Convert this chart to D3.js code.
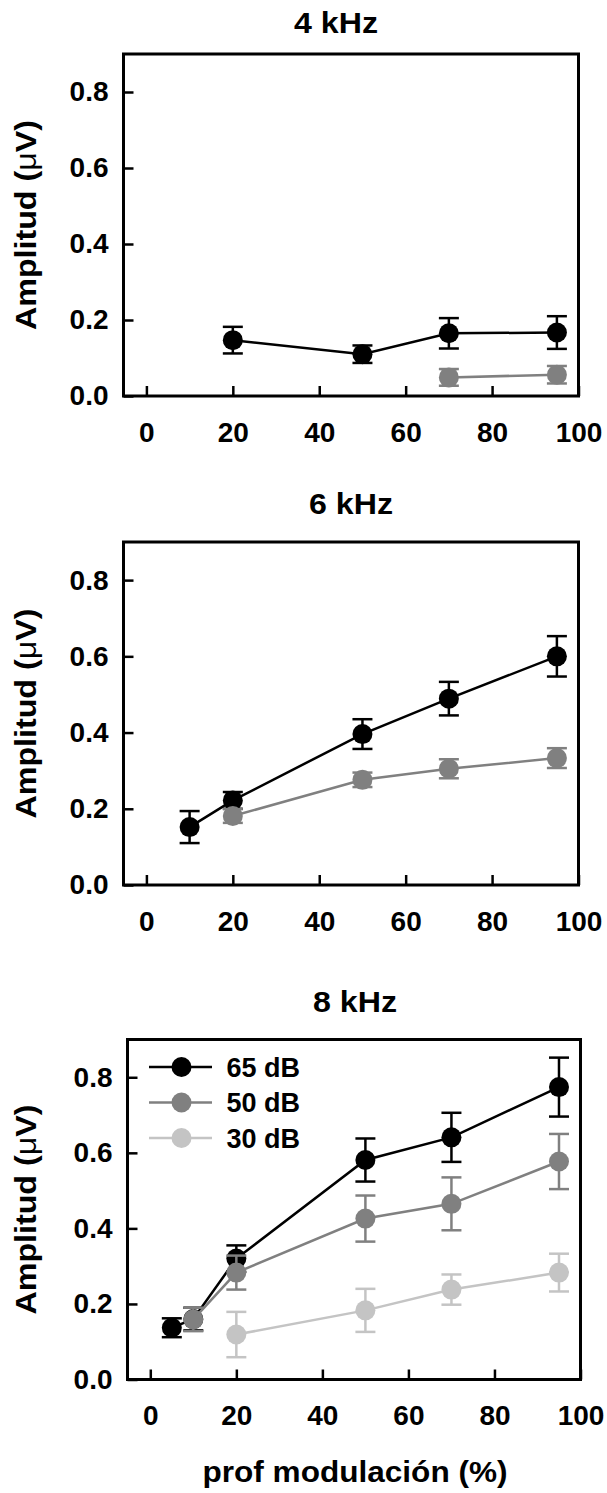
<!DOCTYPE html>
<html>
<head>
<meta charset="utf-8">
<script src="https://cdn.jsdelivr.net/npm/d3@7"></script>
<style>
body { margin:0; background:#fff; }
svg { display:block; }
text { font-family: "Liberation Sans", Arial, sans-serif; font-weight: bold; fill:#000; }
</style>
</head>
<body>
<svg></svg>
<script>
var width = 607
var height = 1493

var xTicks = [0, 20, 40, 60, 80, 100]
var yTicks = [0, 0.2, 0.4, 0.6, 0.8]
var levelNames = ["65 dB", "50 dB", "30 dB"]
var levelCols = ["#000000", "#808080", "#c4c4c4"]
var panelTitles = ["4 kHz", "6 kHz", "8 kHz"]

// 4 kHz
var depth4_65 = [20, 50, 70, 95]
var amp4_65 = [0.147, 0.110, 0.165, 0.167]
var sem4_65 = [0.035, 0.023, 0.040, 0.043]
var depth4_50 = [70, 95]
var amp4_50 = [0.049, 0.056]
var sem4_50 = [0.022, 0.023]

// 6 kHz
var depth6_65 = [10, 20, 50, 70, 95]
var amp6_65 = [0.152, 0.222, 0.396, 0.489, 0.600]
var sem6_65 = [0.042, 0.022, 0.039, 0.044, 0.053]
var depth6_50 = [20, 50, 70, 95]
var amp6_50 = [0.181, 0.276, 0.305, 0.333]
var sem6_50 = [0.018, 0.019, 0.025, 0.026]

// 8 kHz
var depth8_65 = [5, 10, 20, 50, 70, 95]
var amp8_65 = [0.137, 0.160, 0.320, 0.581, 0.641, 0.774]
var sem8_65 = [0.025, 0.030, 0.035, 0.057, 0.065, 0.078]
var depth8_50 = [10, 20, 50, 70, 95]
var amp8_50 = [0.159, 0.283, 0.426, 0.465, 0.577]
var sem8_50 = [0.031, 0.045, 0.061, 0.070, 0.073]
var depth8_30 = [20, 50, 70, 95]
var amp8_30 = [0.119, 0.183, 0.238, 0.283]
var sem8_30 = [0.060, 0.057, 0.040, 0.050]

function makeSeries(depths, amps, sems){
	return depths.map(function(d, i){
		return {x: d, y: amps[i], e: sems[i]}
	})
}

var panels = [
	{title: panelTitles[0], left: 123.5, top: 54, w: 455, h: 342, titleX: 336, titleY: 33,
	 series: [makeSeries(depth4_65, amp4_65, sem4_65), makeSeries(depth4_50, amp4_50, sem4_50), []]},
	{title: panelTitles[1], left: 123.5, top: 542, w: 455, h: 343, titleX: 351, titleY: 514,
	 series: [makeSeries(depth6_65, amp6_65, sem6_65), makeSeries(depth6_50, amp6_50, sem6_50), []]},
	{title: panelTitles[2], left: 127.5, top: 1039.5, w: 453, h: 340, titleX: 355, titleY: 1012,
	 series: [makeSeries(depth8_65, amp8_65, sem8_65), makeSeries(depth8_50, amp8_50, sem8_50), makeSeries(depth8_30, amp8_30, sem8_30)],
	 legend: true}
]

var svg = d3.select("svg")
	.attr("width", width)
	.attr("height", height)

panels.forEach(function(p){

	var xScale = d3.scaleLinear()
		.domain([-5.3, 100])
		.range([0, p.w])

	var yScale = d3.scaleLinear()
		.domain([0, 0.9])
		.range([p.h, 0])

	svg.append("text")
		.attr("x", p.titleX)
		.attr("y", p.titleY)
		.attr("text-anchor", "middle")
		.attr("font-size", 29)
		.attr("textLength", 84)
		.attr("lengthAdjust", "spacingAndGlyphs")
		.text(p.title)

	var g = svg.append("g")
		.attr("transform", "translate(" + p.left + "," + p.top + ")")

	var xAxis = g.append("g")
		.attr("transform", "translate(0," + p.h + ")")
		.call(d3.axisBottom(xScale)
			.tickValues(xTicks)
			.tickFormat(d3.format("d"))
			.tickSizeInner(-10)
			.tickSizeOuter(0)
			.tickPadding(26))

	var yAxis = g.append("g")
		.call(d3.axisLeft(yScale)
			.tickValues(yTicks)
			.tickFormat(d3.format(".1f"))
			.tickSizeInner(-10)
			.tickSizeOuter(0)
			.tickPadding(15))

	g.selectAll(".domain").remove()
	g.selectAll(".tick line").attr("stroke", "#000").attr("stroke-width", 2.5)
	g.selectAll(".tick text")
		.attr("font-size", 28)
		.attr("font-family", '"Liberation Sans", Arial, sans-serif')
		.attr("font-weight", "bold")
		.attr("fill", "#000")

	// frame box
	g.append("rect")
		.attr("x", 0)
		.attr("y", 0)
		.attr("width", p.w)
		.attr("height", p.h)
		.attr("fill", "none")
		.attr("stroke", "#000")
		.attr("stroke-width", 3)

	// y label
	g.append("text")
		.attr("transform", "translate(" + (36 - p.left) + "," + (p.h / 2) + ") rotate(-90)")
		.attr("text-anchor", "middle")
		.attr("font-size", 30)
		.attr("textLength", 210)
		.attr("lengthAdjust", "spacingAndGlyphs")
		.text("Amplitud (")
		.append("tspan").attr("font-weight", "normal").text("\u03bc")
		.select(function(){ return this.parentNode })
		.append("tspan").text("V)")

	var line = d3.line()
		.x(function(d){ return xScale(d.x) })
		.y(function(d){ return yScale(d.y) })

	p.series.forEach(function(s, k){
		if (s.length == 0) return
		var col = levelCols[k]
		var sg = g.append("g")

		sg.append("path")
			.datum(s)
			.attr("d", line)
			.attr("fill", "none")
			.attr("stroke", col)
			.attr("stroke-width", 2.5)

		var bars = sg.selectAll(".err")
			.data(s)
			.join("g")
			.attr("class", "err")

		bars.append("line")
			.attr("x1", function(d){ return xScale(d.x) })
			.attr("x2", function(d){ return xScale(d.x) })
			.attr("y1", function(d){ return yScale(d.y - d.e) })
			.attr("y2", function(d){ return yScale(d.y + d.e) })
			.attr("stroke", col)
			.attr("stroke-width", 2.5)

		bars.append("line")
			.attr("x1", function(d){ return xScale(d.x) - 10 })
			.attr("x2", function(d){ return xScale(d.x) + 10 })
			.attr("y1", function(d){ return yScale(d.y + d.e) })
			.attr("y2", function(d){ return yScale(d.y + d.e) })
			.attr("stroke", col)
			.attr("stroke-width", 2.5)

		bars.append("line")
			.attr("x1", function(d){ return xScale(d.x) - 10 })
			.attr("x2", function(d){ return xScale(d.x) + 10 })
			.attr("y1", function(d){ return yScale(d.y - d.e) })
			.attr("y2", function(d){ return yScale(d.y - d.e) })
			.attr("stroke", col)
			.attr("stroke-width", 2.5)

		sg.selectAll("circle")
			.data(s)
			.join("circle")
			.attr("cx", function(d){ return xScale(d.x) })
			.attr("cy", function(d){ return yScale(d.y) })
			.attr("r", 10)
			.attr("fill", col)
	})

	if (p.legend) {
		var lg = g.selectAll(".legRow")
			.data(levelNames)
			.join("g")
			.attr("class", "legRow")
			.attr("transform", function(d, i){ return "translate(0," + (27.5 + i * 35.5) + ")" })

		lg.append("line")
			.attr("x1", 21.5)
			.attr("x2", 84.5)
			.attr("stroke", function(d, i){ return levelCols[i] })
			.attr("stroke-width", 2.5)

		lg.append("circle")
			.attr("cx", 54)
			.attr("r", 10)
			.attr("fill", function(d, i){ return levelCols[i] })

		lg.append("text")
			.attr("x", 99)
			.attr("dy", "0.36em")
			.attr("font-size", 27)
			.text(function(d){ return d })
	}

	if (p === panels[2]) {
		svg.append("text")
			.attr("x", 355)
			.attr("y", 1482)
			.attr("text-anchor", "middle")
			.attr("font-size", 29)
			.attr("textLength", 305)
			.attr("lengthAdjust", "spacingAndGlyphs")
			.text("prof modulación (%)")
	}
})
</script>
</body>
</html>
